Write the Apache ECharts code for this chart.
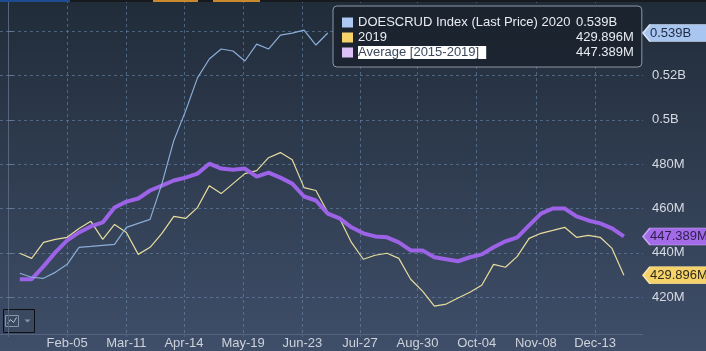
<!DOCTYPE html>
<html lang="en">
<head>
<meta charset="UTF-8">
<title>DOESCRUD Index</title>
<script src="https://cdn.jsdelivr.net/npm/echarts@6/dist/echarts.min.js"></script>
<style>
  html, body { margin: 0; padding: 0; background: #2c3848; }
  #chart { width: 706px; height: 351px; }
</style>
</head>
<body>
<div id="chart"></div>
<script>
// x axis is day of year (Jan-01 = 0)
var tickLabels = ['Jan-01', 'Feb-05', 'Mar-11', 'Apr-14', 'May-19', 'Jun-23', 'Jul-27', 'Aug-30', 'Oct-04', 'Nov-08', 'Dec-13'];
var tickDays = [0, 35, 70, 104, 139, 174, 208, 242, 277, 312, 347];
var yTicks = [420, 440, 460, 480, 500, 520, 540];

// weekly report days
var weekDays = [];
for (var w = 0; w < 52; w++) weekDays.push(7 + 7 * w);

var seriesNames = ['DOESCRUD Index (Last Price) 2020', '2019', 'Average [2015-2019]'];

// millions of barrels
var crude2020 = [430.8, 429.0, 428.5, 431.2, 434.8, 442.5, 442.9, 443.4, 443.8, 451.5, 453.3, 455.1, 471.2,
    490.6, 504.0, 518.9, 527.4, 531.9, 531.0, 526.5, 534.1, 531.9, 538.2, 539.1, 540.4, 533.7, 539.1];
var crude2019 = [439.8, 437.5, 444.7, 446.1, 447.0, 451.0, 454.2, 446.1, 452.8, 449.2, 439.3, 442.5, 448.8,
    456.4, 455.5, 460.4, 470.3, 466.7, 471.2, 475.7, 477.1, 482.9, 485.2, 482.0, 469.4, 468.1, 458.2,
    455.5, 444.7, 437.1, 438.9, 439.8, 437.5, 428.1, 422.7, 416.0, 416.9, 419.6, 422.2, 425.4, 434.8,
    433.5, 438.4, 446.5, 448.8, 450.1, 451.5, 447.0, 447.9, 447.0, 442.0, 429.896];
var avg1519 = [428.1, 428.1, 433.9, 440.2, 445.6, 449.2, 451.9, 453.7, 460.4, 463.1, 464.5, 468.1, 470.3,
    472.6, 473.9, 475.7, 480.2, 478.0, 477.5, 478.0, 474.4, 476.2, 473.9, 471.2, 465.4, 463.6, 457.7,
    455.5, 451.5, 448.8, 447.4, 447.0, 444.7, 441.1, 441.1, 438.0, 437.1, 436.2, 438.0, 439.3, 442.5,
    445.2, 447.0, 452.4, 457.7, 460.0, 460.0, 456.4, 454.6, 453.3, 451.0, 447.389];

var FONT = '"Liberation Sans", Arial, sans-serif';
var X_MIN = -4.7, X_MAX = 375.3;

function pairs(values) {
    return values.map(function (v, i) { return [weekDays[i], v]; });
}
function fmtTag(v) {
    return v >= 500 ? (v / 1000).toFixed(3) + 'B' : v.toFixed(3) + 'M';
}
function last(arr) { return arr[arr.length - 1]; }

var lastVals = {};
lastVals[seriesNames[0]] = last(crude2020);
lastVals[seriesNames[1]] = last(crude2019);
lastVals[seriesNames[2]] = last(avg1519);

// width of the highlighted legend name, to keep the value column aligned
var ctx = document.createElement('canvas').getContext('2d');
ctx.font = '13px ' + FONT;
var HL_PAD = 7;
var hlWidth = ctx.measureText(seriesNames[2]).width + HL_PAD;
var NAME_COL = 218;

function tag(color, textColor, borderColor, value) {
    return {
        silent: true,
        animation: false,
        symbol: 'path://M0,8.5L7,0L70,0L70,17L7,17Z',
        symbolSize: [70, 17],
        symbolKeepAspect: false,
        symbolOffset: [35, 0],
        itemStyle: { color: color, borderColor: borderColor, borderWidth: 1 },
        label: {
            show: true, position: 'insideLeft', distance: 8,
            color: textColor, fontFamily: FONT, fontSize: 13,
            formatter: function (p) { return fmtTag(p.value); }
        },
        data: [{ coord: [X_MAX, value], value: value }]
    };
}

var chartDom = document.getElementById('chart');
var myChart = echarts.init(chartDom);
var option;

option = {
    animation: false,
    backgroundColor: {
        type: 'linear', x: 0, y: 0, x2: 0, y2: 1,
        colorStops: [{ offset: 0, color: '#212c39' }, { offset: 1, color: '#3f4e69' }]
    },
    grid: { left: 0, right: 63, top: 0, bottom: 17 },
    legend: {
        left: 333, top: 6,
        orient: 'vertical',
        selectedMode: false,
        icon: 'rect',
        itemWidth: 11, itemHeight: 10, itemGap: 0,
        padding: [9, 8, 7, 9],
        backgroundColor: 'rgba(27,35,47,0.94)',
        borderColor: '#8d97a5', borderWidth: 1, borderRadius: 4,
        data: [
            { name: seriesNames[0], itemStyle: { color: '#acc8f3' } },
            { name: seriesNames[1], itemStyle: { color: '#f6d36a' } },
            { name: seriesNames[2], itemStyle: { color: '#dcc0f7' } }
        ],
        formatter: function (name) {
            var v = fmtTag(lastVals[name]);
            if (name === seriesNames[2]) {
                return '{hl|' + name + '}{gap| }{v|' + v + '}';
            }
            return '{n|' + name + '}{v|' + v + '}';
        },
        textStyle: {
            color: '#e8ecf2', fontFamily: FONT, fontSize: 13, lineHeight: 15,
            rich: {
                n: { width: NAME_COL, color: '#e8ecf2', fontFamily: FONT, fontSize: 13, lineHeight: 15 },
                hl: {
                    backgroundColor: '#ffffff', color: '#3c495c', padding: [0, HL_PAD, 0, 0],
                    fontFamily: FONT, fontSize: 13, lineHeight: 15
                },
                gap: { width: NAME_COL - hlWidth, fontFamily: FONT, fontSize: 13, lineHeight: 15 },
                v: { width: 54, color: '#e8ecf2', fontFamily: FONT, fontSize: 13, lineHeight: 15 }
            }
        }
    },
    xAxis: {
        type: 'value',
        min: X_MIN, max: X_MAX,
        axisLine: { show: true, lineStyle: { color: '#56657d' } },
        axisTick: { show: true, length: 3, customValues: tickDays, lineStyle: { color: '#56657d' } },
        splitLine: { show: true, lineStyle: { color: 'rgba(112,142,178,0.55)', type: [3, 3] } },
        axisLabel: {
            customValues: tickDays.slice(1),
            margin: 3,
            color: '#cdd2da', fontFamily: FONT, fontSize: 13,
            formatter: function (v) { return tickLabels[tickDays.indexOf(v)]; }
        }
    },
    yAxis: {
        type: 'value',
        position: 'right',
        min: 403.4, max: 554,
        axisLine: { show: true, lineStyle: { color: '#56657d' } },
        axisTick: { show: true, length: 5, customValues: yTicks, lineStyle: { color: '#6a7890' } },
        splitLine: { show: true, lineStyle: { color: 'rgba(112,142,178,0.55)', type: [3, 3] } },
        axisLabel: {
            customValues: yTicks,
            margin: 9,
            color: '#d6dbe3', fontFamily: FONT, fontSize: 13,
            formatter: function (v) { return v >= 500 ? (v / 1000) + 'B' : v + 'M'; }
        }
    },
    graphic: [
        { type: 'rect', left: 0, top: 0, shape: { width: 706, height: 2 }, style: { fill: '#16191e' }, z: 100 },
        { type: 'rect', left: 0, top: 0, shape: { width: 70, height: 2 }, style: { fill: '#1d4c92' }, z: 101 },
        { type: 'rect', left: 153, top: 0, shape: { width: 45, height: 2 }, style: { fill: '#c98a2c' }, z: 101 },
        { type: 'rect', left: 213, top: 0, shape: { width: 47, height: 2 }, style: { fill: '#c98a2c' }, z: 101 },
        {
            type: 'group', left: 3, top: 309, z: 100,
            children: [
                { type: 'rect', shape: { x: 0, y: 0, width: 31, height: 23 }, style: { fill: '#3a4860', stroke: '#0d0f12', lineWidth: 1 } },
                { type: 'rect', shape: { x: 2, y: 6, width: 13, height: 11 }, style: { fill: 'none', stroke: '#8795a8', lineWidth: 1 } },
                { type: 'polyline', shape: { points: [[4, 14], [7, 10], [10, 13], [13, 8]] }, style: { fill: 'none', stroke: '#b8c4d4', lineWidth: 1 } },
                { type: 'polygon', shape: { points: [[21, 10], [27, 10], [24, 13]] }, style: { fill: '#8795a8' } }
            ]
        }
    ],
    series: [
        {
            name: seriesNames[1],
            type: 'line',
            data: pairs(crude2019),
            showSymbol: false,
            z: 2,
            lineStyle: { color: '#e7dc9d', width: 1.2 },
            itemStyle: { color: '#e7dc9d' },
            markPoint: tag('#f6d36a', '#2f2a1c', '#f8e6a8', last(crude2019))
        },
        {
            name: seriesNames[2],
            type: 'line',
            data: pairs(avg1519),
            showSymbol: false,
            z: 3,
            lineStyle: { color: '#9c63e6', width: 4 },
            itemStyle: { color: '#9c63e6' },
            markPoint: tag('#a46be9', '#2c1f4c', '#c7a6f3', last(avg1519))
        },
        {
            name: seriesNames[0],
            type: 'line',
            data: pairs(crude2020),
            showSymbol: false,
            z: 4,
            lineStyle: { color: '#8aaed8', width: 1.2 },
            itemStyle: { color: '#8aaed8' },
            markPoint: tag('#a9c6f1', '#1c2a40', '#dbe7f8', last(crude2020))
        }
    ]
};

option && myChart.setOption(option);
</script>
</body>
</html>
